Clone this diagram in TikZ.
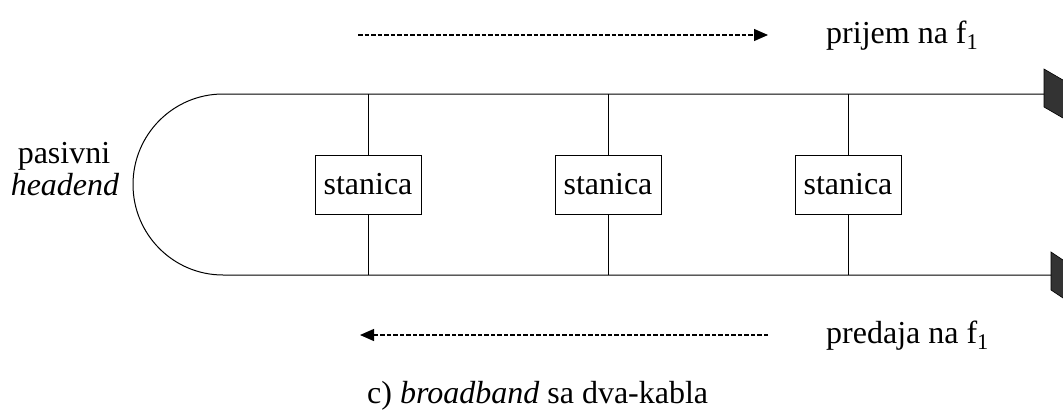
\documentclass[tikz,border=0pt]{standalone}
\usepackage{fontspec}
\setmainfont{Liberation Serif}
\usetikzlibrary{arrows.meta}
\begin{document}
\begin{tikzpicture}[x=1pt,y=-1pt,
  font=\fontsize{32}{32}\selectfont,
  cable/.style={draw=black,line width=1pt},
  stationbox/.style={draw=black,line width=1pt,minimum width=106pt,minimum height=59pt,inner sep=0pt,fill=white},
  flow/.style={draw=black,line width=1.2pt,dash pattern=on 4.5pt off 2pt,-{Triangle[length=14pt,width=12pt]}},
  term/.style={fill=black!80,draw=black,line width=0.6pt},
  lbl/.style={inner sep=0pt,anchor=base west},
  clbl/.style={inner sep=0pt,anchor=base}]
\useasboundingbox (0,0) rectangle (1063,410);
% cable ends
\coordinate (tl) at (223,94);
\coordinate (bl) at (223,275);
\coordinate (tr) at (1044,94);
\coordinate (br) at (1051,275);
% terminators
\filldraw[term] (1044,69) -- (1075,87) -- (1075,125) -- (1044,107) -- cycle;
\filldraw[term] (1051,252) -- (1075,268) -- (1075,306) -- (1051,290) -- cycle;
% cable
\draw[cable] (tr) -- (tl) arc[start angle=270,end angle=90,x radius=90,y radius=90.5] -- (br);
% stations
\foreach \i/\x in {1/368,2/608,3/848}{
  \node[stationbox] (s\i) at (\x,184.5) {stanica};
  \coordinate (t\i) at (\x,94);
  \coordinate (b\i) at (\x,275);
  \draw[cable] (t\i) -- (s\i.north);
  \draw[cable] (s\i.south) -- (b\i);
}
% flows
\coordinate (a1) at (358,35);
\coordinate (a2) at (768,35);
\coordinate (c1) at (768,335);
\coordinate (c2) at (360,335);
\draw[flow] (a1) -- (a2);
\draw[flow] (c1) -- (c2);
\node[lbl] (rx) at (826,43) {prijem na f\textsubscript{1}};
\node[lbl] (tx) at (826,343) {predaja na f\textsubscript{1}};
\node[clbl] (he1) at (64,163) {pasivni};
\node[clbl] (he2) at (65,195) {\textit{headend}};
\node[lbl] (cap) at (367,403) {c) \textit{broadband} sa dva-kabla};
\end{tikzpicture}
\end{document}
